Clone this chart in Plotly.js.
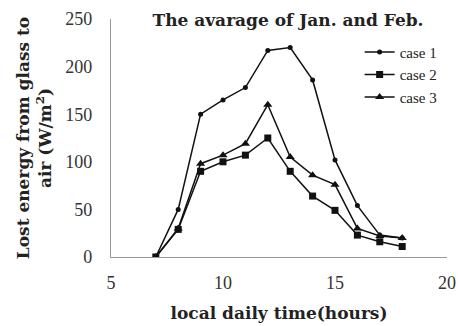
<!DOCTYPE html>
<html>
<head>
<script src="https://cdn.plot.ly/plotly-3.0.1.min.js"></script>
<style>html,body{margin:0;padding:0;background:#fff;}</style>
</head>
<body>
<div id="chart" style="width:458px;height:326px;"></div>
<script>
var hours = [7, 8, 9, 10, 11, 12, 13, 14, 15, 16, 17, 18];
var case1 = [0, 50, 150, 165, 178, 217, 220, 186, 102, 54, 23, 20];
var case2 = [0, 29, 90, 100, 107, 125, 90, 64, 49, 23, 16, 11];
var case3 = [0, 30, 98, 107, 119, 160, 105, 86, 76, 30, 22, 20];
var seriesNames = ['case 1', 'case 2', 'case 3'];
var xTicks = [5, 10, 15, 20];
var yTicks = [0, 50, 100, 150, 200, 250];

var serif = 'Liberation Serif, Times New Roman, serif';
var wideSerif = 'DejaVu Serif, serif';
var lineStyle = {color: '#111', width: 1.5};
var traces = [
  {x: hours, y: case1, name: seriesNames[0], mode: 'lines+markers', line: lineStyle,
   marker: {symbol: 'circle', size: 5, color: '#111'}},
  {x: hours, y: case2, name: seriesNames[1], mode: 'lines+markers', line: lineStyle,
   marker: {symbol: 'square', size: 7, color: '#111'}},
  {x: hours, y: case3, name: seriesNames[2], mode: 'lines+markers', line: lineStyle,
   marker: {symbol: 'triangle-up', size: 8, color: '#111'}}
];

var layout = {
  width: 458, height: 326,
  margin: {l: 111, r: 11, t: 19, b: 69},
  paper_bgcolor: '#fff', plot_bgcolor: '#fff',
  showlegend: true,
  font: {family: serif, color: '#222'},
  title: {text: '<b>The avarage of Jan. and Feb.</b>', font: {family: wideSerif, size: 17, color: '#222'},
          x: 288 / 458, xanchor: 'center', y: 1 - 20 / 326, yanchor: 'middle', yref: 'container'},
  xaxis: {range: [5, 20], tickvals: xTicks, ticks: '', showgrid: false, zeroline: false,
          showline: true, linecolor: '#999', linewidth: 1.2, ticklabelstandoff: 9,
          tickfont: {family: serif, size: 18, color: '#333'},
          title: {text: '<b>local daily time(hours)</b>', font: {family: wideSerif, size: 17, color: '#222'}, standoff: 15}},
  yaxis: {range: [0, 250], tickvals: yTicks, ticks: '', showgrid: false, zeroline: false,
          showline: true, linecolor: '#999', linewidth: 1.2, ticklabelstandoff: 14,
          tickfont: {family: serif, size: 18, color: '#333'},
          title: {text: '<b>Lost energy from glass to<br>air (W/m<sup>2</sup>)</b>', font: {family: wideSerif, size: 17, color: '#222'}, standoff: 9}},
  legend: {x: 0.74, y: 0.93, xanchor: 'left', yanchor: 'top', bgcolor: 'rgba(0,0,0,0)',
           font: {family: serif, size: 15, color: '#222'}, tracegroupgap: 0}
};

Plotly.newPlot('chart', traces, layout, {displayModeBar: false, staticPlot: true});
</script>
</body>
</html>
